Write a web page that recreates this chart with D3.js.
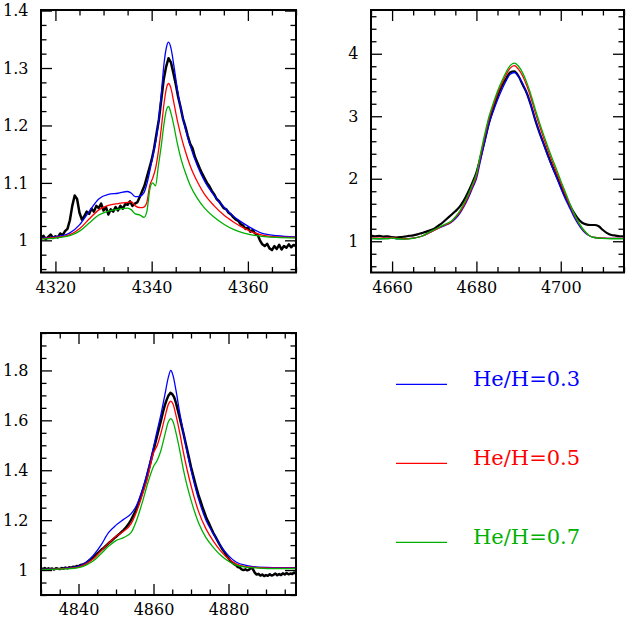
<!DOCTYPE html>
<html>
<head>
<meta charset="utf-8">
<script src="https://cdn.jsdelivr.net/npm/d3@7"></script>
<style>
  body { margin: 0; background: #fff; }
  svg { display: block; font-family: "DejaVu Serif", serif; }
</style>
</head>
<body>
<div class="chart"></div>
<script>
// ---- data ----
const models = ["He/H=0.3", "He/H=0.5", "He/H=0.7"];
const modelColors = ["#0000ff", "#ff0000", "#00b000"];

// panel 1 : H gamma region
const wave1 = [4317, 4320, 4323, 4325, 4327, 4329, 4331, 4333, 4335, 4335.8, 4336.6, 4337.6, 4338.4, 4339, 4339.6,
  4340.2, 4340.8, 4341.4, 4342, 4342.6, 4343.1, 4343.5, 4344, 4344.6, 4345.3, 4346, 4347, 4348, 4349.5, 4351,
  4353, 4355, 4357, 4359, 4361, 4363, 4366, 4370];
const blue1 = [1.004, 1.006, 1.013, 1.027, 1.05, 1.072, 1.08, 1.082, 1.085, 1.082, 1.076, 1.077, 1.083, 1.098, 1.12,
  1.145, 1.17, 1.205, 1.255, 1.31, 1.337, 1.345, 1.335, 1.305, 1.265, 1.232, 1.195, 1.165, 1.13, 1.103,
  1.078, 1.058, 1.042, 1.03, 1.02, 1.012, 1.008, 1.006];
const red1 = [1.003, 1.005, 1.01, 1.02, 1.037, 1.053, 1.061, 1.064, 1.066, 1.067, 1.06, 1.057, 1.058, 1.066, 1.095,
  1.108, 1.125, 1.155, 1.195, 1.24, 1.266, 1.273, 1.265, 1.24, 1.21, 1.185, 1.155, 1.13, 1.102, 1.08,
  1.06, 1.044, 1.032, 1.022, 1.014, 1.009, 1.006, 1.005];
const green1 = [1.002, 1.004, 1.008, 1.016, 1.03, 1.044, 1.051, 1.054, 1.056, 1.053, 1.046, 1.044, 1.04, 1.05, 1.088,
  1.1, 1.095, 1.13, 1.165, 1.205, 1.228, 1.233, 1.222, 1.2, 1.17, 1.145, 1.118, 1.096, 1.073, 1.056,
  1.04, 1.028, 1.019, 1.013, 1.009, 1.007, 1.005, 1.004];
const obs1Start = 4317, obs1Step = 0.5;
const obs1 = [1.003, 1.008, 1.002, 1.006, 1.01, 1.004, 1.007, 1.005, 1.012, 1.009,
  1.016, 1.02, 1.035, 1.06, 1.078, 1.072, 1.048, 1.036, 1.042, 1.05,
  1.046, 1.055, 1.05, 1.06, 1.056, 1.064, 1.052, 1.058, 1.045, 1.054,
  1.05, 1.058, 1.052, 1.06, 1.055, 1.063, 1.062, 1.068, 1.06, 1.064,
  1.066, 1.075, 1.085, 1.095, 1.11, 1.125, 1.14, 1.16, 1.185, 1.21,
  1.245, 1.28, 1.302, 1.317, 1.31, 1.292, 1.272, 1.25, 1.232, 1.212,
  1.198, 1.182, 1.168, 1.16, 1.145, 1.135, 1.125, 1.116, 1.108, 1.1,
  1.094, 1.086, 1.08, 1.072, 1.068, 1.062, 1.056, 1.054, 1.048, 1.045,
  1.04, 1.036, 1.034, 1.028, 1.026, 1.02, 1.022, 1.015, 1.018, 1.012,
  1.01, 1.0, 0.993, 0.99, 0.994, 0.986, 0.983, 0.99, 0.985, 0.992,
  0.984, 0.99, 0.987, 0.993, 0.988, 0.992, 0.99];

// panel 2 : He II 4686
const wave2 = [4655, 4657, 4659, 4660, 4661, 4663, 4665, 4667, 4669, 4671, 4672.5,
  4674, 4675, 4676, 4677, 4678, 4679, 4680, 4681, 4682, 4683, 4684, 4685, 4686, 4687, 4688, 4689,
  4690, 4691, 4692, 4693, 4694, 4695, 4696, 4697, 4698, 4699, 4700, 4701, 4702, 4703, 4704, 4705,
  4706, 4707, 4708, 4710, 4712, 4715];
const blue2 = [1.05, 1.04, 1.05, 1.06, 1.04, 1.04, 1.05, 1.08, 1.14, 1.21, 1.25,
  1.3, 1.36, 1.44, 1.55, 1.68, 1.84, 2.0, 2.3, 2.6, 2.88, 3.08, 3.26, 3.42, 3.56, 3.67, 3.70,
  3.63, 3.52, 3.36, 3.16, 2.94, 2.73, 2.54, 2.35, 2.18, 2.02, 1.85, 1.69, 1.55, 1.41, 1.29, 1.19,
  1.12, 1.08, 1.06, 1.05, 1.045, 1.045];
const red2 = [1.05, 1.05, 1.05, 1.06, 1.045, 1.04, 1.05, 1.08, 1.14, 1.21, 1.26,
  1.31, 1.38, 1.46, 1.57, 1.71, 1.87, 2.04, 2.37, 2.68, 2.96, 3.17, 3.36, 3.52, 3.66, 3.77, 3.81,
  3.75, 3.64, 3.48, 3.28, 3.05, 2.84, 2.64, 2.45, 2.27, 2.1, 1.93, 1.76, 1.6, 1.45, 1.32, 1.21,
  1.13, 1.08, 1.06, 1.05, 1.045, 1.045];
const green2 = [1.04, 1.04, 1.04, 1.055, 1.04, 1.035, 1.045, 1.08, 1.15, 1.22, 1.27,
  1.32, 1.39, 1.48, 1.6, 1.74, 1.9, 2.08, 2.41, 2.72, 3.0, 3.21, 3.4, 3.56, 3.7, 3.81, 3.85,
  3.8, 3.69, 3.53, 3.33, 3.1, 2.89, 2.69, 2.5, 2.32, 2.15, 1.97, 1.8, 1.63, 1.47, 1.33, 1.22,
  1.14, 1.08, 1.06, 1.045, 1.04, 1.04];
const obs2Start = 4655, obs2Step = 1;
const obs2 = [1.09, 1.08, 1.085, 1.075, 1.08, 1.065, 1.06, 1.065, 1.075, 1.085,
  1.095, 1.11, 1.13, 1.15, 1.175, 1.2, 1.25, 1.3, 1.36, 1.42,
  1.48, 1.55, 1.65, 1.78, 1.93, 2.1, 2.35, 2.62, 2.9, 3.12,
  3.32, 3.48, 3.6, 3.7, 3.72, 3.64, 3.5, 3.36, 3.16, 2.93,
  2.73, 2.55, 2.37, 2.2, 2.04, 1.88, 1.73, 1.59, 1.47, 1.37,
  1.3, 1.27, 1.26, 1.26, 1.24, 1.18, 1.13, 1.1, 1.09, 1.08,
  1.08];

// panel 3 : H beta region
const wave3 = [4830, 4835, 4838, 4840, 4842, 4844, 4846, 4848, 4850, 4852, 4854, 4855.5, 4857, 4858.5,
  4860, 4861, 4862, 4863, 4864, 4864.6, 4865.2, 4866, 4867, 4868, 4869, 4870.5, 4872, 4874, 4876,
  4878, 4880, 4882, 4885, 4888, 4892, 4898];
const blue3 = [1.004, 1.006, 1.01, 1.015, 1.03, 1.06, 1.1, 1.15, 1.18, 1.203, 1.225, 1.26, 1.32, 1.4,
  1.493, 1.56, 1.625, 1.70, 1.775, 1.8, 1.78, 1.72, 1.63, 1.55, 1.47, 1.37, 1.285, 1.2, 1.145,
  1.095, 1.058, 1.032, 1.018, 1.012, 1.01, 1.01];
const red3 = [1.003, 1.005, 1.008, 1.012, 1.025, 1.045, 1.077, 1.107, 1.135, 1.155, 1.185, 1.235, 1.3, 1.375,
  1.47, 1.5, 1.55, 1.61, 1.665, 1.677, 1.665, 1.62, 1.55, 1.47, 1.4, 1.31, 1.235, 1.165, 1.115,
  1.075, 1.045, 1.025, 1.013, 1.01, 1.008, 1.008];
const green3 = [1.002, 1.004, 1.006, 1.01, 1.02, 1.037, 1.065, 1.095, 1.118, 1.13, 1.15, 1.2, 1.27, 1.35,
  1.415, 1.44, 1.48, 1.54, 1.595, 1.607, 1.595, 1.55, 1.48, 1.4, 1.335, 1.255, 1.19, 1.13, 1.09,
  1.058, 1.035, 1.02, 1.011, 1.008, 1.006, 1.006];
const obs3Start = 4830, obs3Step = 0.5;
const obs3 = [1.006, 1.004, 1.008, 1.003, 1.007, 1.004, 1.006, 1.002, 1.007, 1.005,
  1.004, 1.008, 1.006, 1.01, 1.007, 1.011, 1.009, 1.013, 1.012, 1.016,
  1.015, 1.02, 1.021, 1.025, 1.028, 1.034, 1.04, 1.046, 1.053, 1.06,
  1.066, 1.073, 1.08, 1.086, 1.093, 1.1, 1.107, 1.113, 1.12, 1.127,
  1.133, 1.14, 1.146, 1.153, 1.16, 1.168, 1.178, 1.188, 1.2, 1.215,
  1.23, 1.248, 1.267, 1.29, 1.312, 1.336, 1.36, 1.39, 1.42, 1.45,
  1.48, 1.51, 1.54, 1.57, 1.6, 1.632, 1.66, 1.682, 1.7, 1.71,
  1.705, 1.693, 1.67, 1.64, 1.61, 1.578, 1.547, 1.513, 1.48, 1.447,
  1.413, 1.384, 1.355, 1.327, 1.3, 1.278, 1.255, 1.234, 1.213, 1.196,
  1.18, 1.163, 1.147, 1.134, 1.12, 1.106, 1.093, 1.08, 1.07, 1.056,
  1.047, 1.036, 1.03, 1.024, 1.02, 1.012, 1.01, 1.003, 1.0, 1.003,
  0.999, 1.002, 1.01, 1.004, 0.99, 0.982, 0.985, 0.978, 0.982, 0.976,
  0.98, 0.977, 0.983, 0.978, 0.981, 0.986, 0.979, 0.984, 0.98, 0.987,
  0.982, 0.988, 0.983, 0.986, 0.984, 0.99, 0.986];

// tick labels
const xTicks1 = [4320, 4340, 4360], yTicks1 = [1, 1.1, 1.2, 1.3, 1.4];
const xTicks2 = [4660, 4680, 4700], yTicks2 = [1, 2, 3, 4];
const xTicks3 = [4840, 4860, 4880], yTicks3 = [1, 1.2, 1.4, 1.6, 1.8];

// ---- layout ----
const width = 626, height = 623;
const majorLen = 11, minorLen = 5.5;

const decFmt = d => d === 1 ? "1" : d3.format(".1f")(d);

const panels = [
  { left: 41, right: 296, top: 10, bottom: 272.5,
    xDomain: [4317, 4370], yDomain: [0.944, 1.401],
    xTicks: xTicks1, xMinor: 5, yTicks: yTicks1, yMinor: 0.025, yFmt: decFmt,
    wave: wave1, series: [blue1, red1, green1],
    obs: obs1, obsStart: obs1Start, obsStep: obs1Step, obsWidth: 2.5, obsCurve: d3.curveLinear },
  { left: 371, right: 624, top: 10, bottom: 272.5,
    xDomain: [4655, 4715], yDomain: [0.5, 4.7],
    xTicks: xTicks2, xMinor: 5, yTicks: yTicks2, yMinor: 0.2, yFmt: d3.format("d"),
    wave: wave2, series: [blue2, red2, green2],
    obs: obs2, obsStart: obs2Start, obsStep: obs2Step, obsWidth: 2.2, obsCurve: d3.curveMonotoneX },
  { left: 41, right: 296, top: 333, bottom: 595,
    xDomain: [4830, 4898], yDomain: [0.9, 1.95],
    xTicks: xTicks3, xMinor: 5, yTicks: yTicks3, yMinor: 0.05, yFmt: decFmt,
    wave: wave3, series: [blue3, red3, green3],
    obs: obs3, obsStart: obs3Start, obsStep: obs3Step, obsWidth: 2.5, obsCurve: d3.curveLinear }
];

const svg = d3.select(".chart").append("svg")
  .attr("width", width)
  .attr("height", height);

svg.append("rect")
  .attr("width", width)
  .attr("height", height)
  .attr("fill", "#fff");

function minorTicks(domain, step, major) {
  const lo = Math.ceil(domain[0] / step - 1e-9), hi = Math.floor(domain[1] / step + 1e-9);
  return d3.range(lo, hi + 1)
    .map(k => +(k * step).toFixed(6))
    .filter(v => !major.some(m => Math.abs(m - v) < 1e-6));
}

function drawPanel(p, idx) {
  const x = d3.scaleLinear().domain(p.xDomain).range([p.left, p.right]);
  const y = d3.scaleLinear().domain(p.yDomain).range([p.bottom, p.top]);

  const g = svg.append("g").attr("class", "panel");

  g.append("clipPath")
    .attr("id", "clip" + idx)
    .append("rect")
    .attr("x", p.left).attr("y", p.top)
    .attr("width", p.right - p.left).attr("height", p.bottom - p.top);

  const plot = g.append("g").attr("clip-path", `url(#clip${idx})`);

  // observed spectrum
  const obsPts = p.obs.map((v, i) => [p.obsStart + i * p.obsStep, v]);
  plot.append("path")
    .datum(obsPts)
    .attr("fill", "none")
    .attr("stroke", "#000")
    .attr("stroke-width", p.obsWidth)
    .attr("stroke-linejoin", "round")
    .attr("d", d3.line().x(d => x(d[0])).y(d => y(d[1])).curve(p.obsCurve));

  // model spectra
  const line = d3.line().x(d => x(d[0])).y(d => y(d[1])).curve(d3.curveMonotoneX);
  plot.selectAll(".model")
    .data(p.series.map(s => s.map((v, i) => [p.wave[i], v])))
    .join("path")
    .attr("class", "model")
    .attr("fill", "none")
    .attr("stroke", (d, k) => modelColors[k])
    .attr("stroke-width", 1.3)
    .attr("d", line);

  const xMinor = minorTicks(p.xDomain, p.xMinor, p.xTicks);
  const yMinor = minorTicks(p.yDomain, p.yMinor, p.yTicks);

  // major + minor ticks on all four sides, pointing inward
  const sides = [
    { axis: d3.axisBottom, scale: x, t: `translate(0,${p.bottom})`, major: p.xTicks, minor: xMinor, fmt: d3.format("d"), pad: 9 },
    { axis: d3.axisTop, scale: x, t: `translate(0,${p.top})`, major: p.xTicks, minor: xMinor, fmt: () => "" },
    { axis: d3.axisLeft, scale: y, t: `translate(${p.left},0)`, major: p.yTicks, minor: yMinor, fmt: p.yFmt, pad: 12.5 },
    { axis: d3.axisRight, scale: y, t: `translate(${p.right},0)`, major: p.yTicks, minor: yMinor, fmt: () => "" }
  ];

  sides.forEach(s => {
    g.append("g")
      .attr("class", "axis")
      .attr("transform", s.t)
      .call(s.axis(s.scale).tickValues(s.minor).tickSize(-minorLen).tickSizeOuter(0).tickFormat(""));
    g.append("g")
      .attr("class", "axis")
      .attr("transform", s.t)
      .call(s.axis(s.scale).tickValues(s.major).tickSize(-majorLen).tickSizeOuter(0)
        .tickPadding(s.pad || 3).tickFormat(s.fmt))
      .attr("font-size", 16)
      .attr("font-family", "'DejaVu Serif', serif");
  });

  g.selectAll(".axis .domain").remove();
  g.selectAll(".axis line").attr("stroke-width", 1.3);
  g.selectAll(".axis text").attr("fill", "#000");

  g.append("rect")
    .attr("x", p.left).attr("y", p.top)
    .attr("width", p.right - p.left).attr("height", p.bottom - p.top)
    .attr("fill", "none")
    .attr("stroke", "#000")
    .attr("stroke-width", 2);
}

panels.forEach(drawPanel);

// legend
const legend = svg.append("g")
  .selectAll("g")
  .data(models)
  .join("g")
  .attr("transform", (d, i) => `translate(0,${384.3 + i * 79})`);

legend.append("line")
  .attr("x1", 396).attr("x2", 447)
  .attr("stroke", (d, i) => modelColors[i])
  .attr("stroke-width", 1.3);

legend.append("text")
  .attr("x", 473)
  .attr("y", 1.3)
  .attr("font-size", 21)
  .attr("fill", (d, i) => modelColors[i])
  .text(d => d);
</script>
</body>
</html>
